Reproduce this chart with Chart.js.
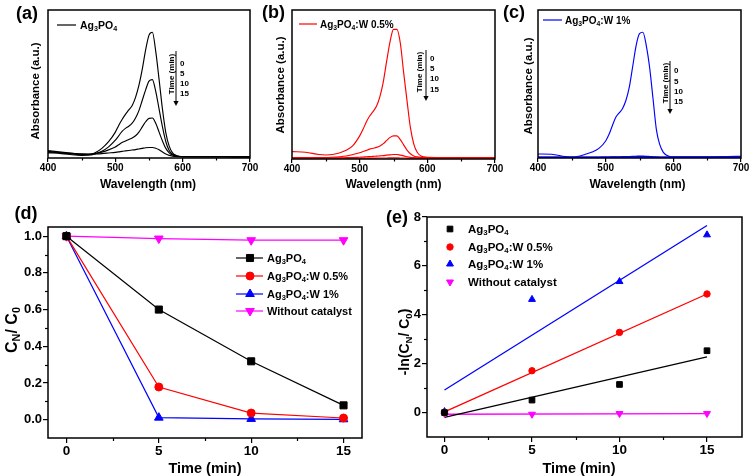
<!DOCTYPE html>
<html><head><meta charset="utf-8">
<script src="https://cdn.jsdelivr.net/npm/chart.js@4.4.1/dist/chart.umd.min.js"></script>
<style>
html,body{margin:0;padding:0;background:#fff;}
#wrap{position:relative;width:750px;height:476px;overflow:hidden;background:#fff;}
canvas{position:absolute;}
</style></head><body>
<div id="wrap">
<canvas id="ca" width="270" height="200" style="left:0px;top:0px"></canvas>
<canvas id="cb" width="270" height="200" style="left:250px;top:0px"></canvas>
<canvas id="cc" width="260" height="200" style="left:500px;top:0px"></canvas>
<canvas id="cd" width="380" height="276" style="left:0px;top:200px"></canvas>
<canvas id="ce" width="375" height="276" style="left:375px;top:200px"></canvas>
</div>
<script>
// ---------------- DATA ----------------
const wavelengths = [400,420,440,450,460,470,480,490,500,505,510,515,520,525,530,535,540,545,550,555,560,565,570,575,580,585,590,595,600,620,650,680,700];
const wlTicks = [400,500,600,700];
const wlMinorTicks = [450,550,650];
const timeLabels = ['0','5','10','15'];

// (a) Ag3PO4 spectra at 0,5,10,15 min
const absAg0  = [0.035,0.030,0.020,0.018,0.020,0.035,0.065,0.110,0.175,0.220,0.260,0.295,0.325,0.355,0.410,0.490,0.600,0.730,0.830,0.850,0.720,0.530,0.330,0.170,0.080,0.035,0.018,0.012,0.010,0.009,0.009,0.008,0.008];
const absAg5  = [0.045,0.035,0.025,0.020,0.020,0.028,0.045,0.075,0.120,0.150,0.180,0.200,0.215,0.235,0.270,0.320,0.390,0.460,0.520,0.530,0.450,0.330,0.210,0.110,0.050,0.025,0.014,0.010,0.009,0.009,0.009,0.008,0.008];
const absAg10 = [0.050,0.040,0.030,0.025,0.025,0.030,0.040,0.055,0.075,0.090,0.105,0.115,0.125,0.135,0.150,0.175,0.210,0.245,0.268,0.270,0.235,0.175,0.115,0.065,0.035,0.020,0.012,0.010,0.009,0.009,0.009,0.008,0.008];
const absAg15 = [0.040,0.035,0.030,0.028,0.027,0.028,0.030,0.034,0.038,0.041,0.045,0.048,0.051,0.054,0.057,0.061,0.065,0.069,0.071,0.071,0.066,0.055,0.040,0.027,0.018,0.013,0.010,0.009,0.009,0.009,0.009,0.008,0.008];
// (b) Ag3PO4:W 0.5%
const absW05_0  = [0.050,0.045,0.030,0.027,0.030,0.040,0.058,0.090,0.155,0.200,0.250,0.290,0.320,0.355,0.420,0.520,0.660,0.790,0.870,0.870,0.780,0.580,0.390,0.210,0.100,0.045,0.022,0.014,0.011,0.010,0.010,0.010,0.010];
const absW05_5  = [0.010,0.010,0.010,0.010,0.012,0.015,0.020,0.030,0.042,0.050,0.058,0.066,0.072,0.078,0.088,0.103,0.125,0.145,0.155,0.155,0.130,0.095,0.060,0.035,0.020,0.014,0.011,0.010,0.010,0.010,0.010,0.010,0.010];
const absW05_10 = [0.007,0.007,0.007,0.007,0.008,0.008,0.009,0.010,0.012,0.013,0.015,0.016,0.018,0.019,0.021,0.023,0.026,0.028,0.030,0.030,0.026,0.021,0.015,0.011,0.009,0.008,0.007,0.007,0.007,0.007,0.007,0.007,0.007];
const absW05_15 = [0.005,0.005,0.005,0.005,0.005,0.005,0.005,0.005,0.005,0.005,0.006,0.006,0.006,0.006,0.007,0.007,0.007,0.008,0.008,0.008,0.007,0.007,0.006,0.006,0.005,0.005,0.005,0.005,0.005,0.005,0.005,0.005,0.005];
// (c) Ag3PO4:W 1%
const absW1_0  = [0.027,0.025,0.010,0.006,0.012,0.025,0.040,0.065,0.115,0.160,0.220,0.275,0.305,0.335,0.390,0.480,0.620,0.760,0.840,0.850,0.760,0.610,0.400,0.190,0.090,0.040,0.018,0.010,0.008,0.008,0.008,0.010,0.012];
const absW1_5  = [0.006,0.006,0.006,0.006,0.006,0.006,0.006,0.006,0.007,0.007,0.008,0.008,0.008,0.009,0.009,0.010,0.011,0.012,0.013,0.013,0.012,0.010,0.008,0.007,0.006,0.006,0.006,0.006,0.006,0.006,0.006,0.007,0.008];
const absW1_10 = [0.005,0.005,0.005,0.005,0.005,0.005,0.005,0.005,0.006,0.006,0.006,0.007,0.007,0.007,0.008,0.008,0.009,0.009,0.010,0.010,0.009,0.008,0.007,0.006,0.005,0.005,0.005,0.005,0.005,0.005,0.005,0.006,0.007];
const absW1_15 = [0.004,0.004,0.004,0.004,0.004,0.004,0.004,0.004,0.004,0.004,0.005,0.005,0.005,0.005,0.005,0.005,0.006,0.006,0.006,0.006,0.006,0.005,0.005,0.004,0.004,0.004,0.004,0.004,0.004,0.004,0.004,0.005,0.006];

// (d) C/C0 vs time
const timePoints = [0,5,10,15];
const timeTicks = [0,5,10,15];
const timeMinorTicks = [2.5,7.5,12.5];
const ratioTicks = [0,0.2,0.4,0.6,0.8,1.0];
const ratioMinorTicks = [0.1,0.3,0.5,0.7,0.9];
const ratioAg   = [1.0,0.600,0.318,0.078];
const ratioW05  = [1.0,0.178,0.036,0.009];
const ratioW1   = [1.0,0.011,0.004,0.002];
const ratioNone = [1.0,0.987,0.978,0.978];

// (e) -ln(C/C0) vs time, with linear fits
const lnTicks = [0,2,4,6,8];
const lnMinorTicks = [1,3,5,7];
const lnAg   = [0,0.51,1.15,2.53];
const lnW05  = [0,1.71,3.28,4.85];
const lnW1   = [0.04,4.63,5.36,7.27];
const lnNone = [-0.04,-0.07,-0.04,-0.04];
const fitTimes = [0,15];
const fitAg   = [-0.20,2.28];
const fitW05  = [0.03,4.85];
const fitW1   = [0.92,7.65];
const fitNone = [-0.07,-0.04];

const seriesNames = ['Ag_3PO_4','Ag_3PO_4:W 0.5%','Ag_3PO_4:W 1%','Without catalyst'];

// ---------------- HELPERS ----------------
const FAM = '"Liberation Sans", Arial, Helvetica, sans-serif';
function fnt(size){ return {family:FAM, size:size, weight:'bold'}; }
function fstr(size){ return 'bold ' + size + 'px ' + FAM; }
function splitRich(str){
  const out=[]; let buf='';
  for(let i=0;i<str.length;i++){
    if(str[i]==='_' && i+1<str.length){ if(buf) out.push([buf,false]); buf=''; out.push([str[i+1],true]); i++; }
    else buf+=str[i];
  }
  if(buf) out.push([buf,false]);
  return out;
}
function richText(ctx, str, x, y, size, align, rot, color){
  const parts = splitRich(str);
  const ss = size*0.68;
  ctx.save();
  ctx.translate(x,y); if(rot) ctx.rotate(rot);
  ctx.fillStyle = color || '#000';
  ctx.textBaseline = 'alphabetic'; ctx.textAlign = 'left';
  let w=0;
  parts.forEach(p=>{ ctx.font = fstr(p[1]?ss:size); w += ctx.measureText(p[0]).width; });
  let cx = align==='center' ? -w/2 : (align==='right' ? -w : 0);
  const base = size*0.36;
  parts.forEach(p=>{
    ctx.font = fstr(p[1]?ss:size);
    ctx.fillText(p[0], cx, p[1] ? base + size*0.2 : base);
    cx += ctx.measureText(p[0]).width;
  });
  ctx.restore();
}
function marker(ctx, style, rot, r, x, y, color){
  ctx.save();
  ctx.fillStyle=color; ctx.strokeStyle=color; ctx.lineWidth=1;
  if (Chart.helpers && Chart.helpers.drawPoint){
    Chart.helpers.drawPoint(ctx, {pointStyle:style, rotation:rot||0, radius:r, borderWidth:1}, x, y);
  } else {
    ctx.beginPath();
    if(style==='circle'){ ctx.arc(x,y,r,0,Math.PI*2); }
    else if(style==='rect'){ const s=r*Math.SQRT1_2; ctx.rect(x-s,y-s,2*s,2*s); }
    else { let a=(rot||0)*Math.PI/180; for(let k=0;k<3;k++){ const px=x+Math.sin(a)*r, py=y-Math.cos(a)*r; k?ctx.lineTo(px,py):ctx.moveTo(px,py); a+=2*Math.PI/3; } ctx.closePath(); }
    ctx.fill(); ctx.stroke();
  }
  ctx.restore();
}
function seg(ctx,x1,y1,x2,y2,color,w){
  ctx.save(); ctx.strokeStyle=color||'#000'; ctx.lineWidth=w||1;
  ctx.beginPath(); ctx.moveTo(x1,y1); ctx.lineTo(x2,y2); ctx.stroke(); ctx.restore();
}
function timeArrow(ctx, tx, ty, ax, y1, y2, lx, ly){
  richText(ctx,'Time (min)',tx,ty,8,'center',-Math.PI/2,'#000');
  seg(ctx,ax,y1,ax,y2-4,'#000',1);
  ctx.save(); ctx.fillStyle='#000'; ctx.beginPath();
  ctx.moveTo(ax-2.6,y2-5); ctx.lineTo(ax+2.6,y2-5); ctx.lineTo(ax,y2); ctx.closePath(); ctx.fill(); ctx.restore();
  timeLabels.forEach((t,i)=>richText(ctx,t,lx,ly[i],8,'left',0,'#000'));
}
function extrasPlugin(cfg){
  return {
    id:'extras',
    afterDraw(chart){
      const ctx=chart.ctx, a=chart.chartArea;
      ctx.save();
      ctx.strokeStyle='#000'; ctx.lineWidth=1.5;
      ctx.strokeRect(a.left, a.top, a.right-a.left, a.bottom-a.top);
      (cfg.minorX||[]).forEach(v=>{ const px=Math.round(chart.scales.x.getPixelForValue(v))+0.5; seg(ctx,px,a.bottom,px,a.bottom+cfg.minorLen,'#000',1.2); });
      (cfg.minorY||[]).forEach(v=>{ const py=Math.round(chart.scales.y.getPixelForValue(v))+0.5; seg(ctx,a.left,py,a.left-cfg.minorLen,py,'#000',1.2); });
      cfg.draw(ctx, chart);
      ctx.restore();
    }
  };
}
function xyData(xs, ys){ return xs.map((x,i)=>({x:x, y:ys[i]})); }

function spectraChart(id, series, color, cfg){
  return new Chart(document.getElementById(id), {
    type:'line',
    data:{datasets: series.map(s=>({data:xyData(wavelengths,s), borderColor:color, borderWidth:1.15, pointRadius:0, fill:false, tension:0.4, cubicInterpolationMode:'monotone'}))},
    options:{
      responsive:false, animation:false, events:[],
      layout:{padding:cfg.pad},
      plugins:{legend:{display:false}, tooltip:{enabled:false}},
      scales:{
        x:{type:'linear', min:400, max:700,
           afterBuildTicks:s=>{ s.ticks = wlTicks.map(v=>({value:v})); },
           ticks:{font:fnt(10), color:'#000', padding:0, maxRotation:0, autoSkip:false},
           grid:{drawOnChartArea:false, drawTicks:true, tickLength:4, color:'#000', lineWidth:1.2},
           border:{display:false},
           afterFit:s=>{ s.height = cfg.xh; }},
        y:{type:'linear', min:0, max:1, ticks:{display:false}, grid:{display:false}, border:{display:false},
           afterFit:s=>{ s.width = cfg.yw; }}
      }
    },
    plugins:[extrasPlugin({minorX:wlMinorTicks, minorLen:2.5, draw:cfg.draw})]
  });
}

// ---------------- (a) ----------------
spectraChart('ca', [absAg0,absAg5,absAg10,absAg15], '#000000', {
  pad:{left:0,top:10,right:20,bottom:0}, xh:42, yw:48,
  draw(ctx){
    richText(ctx,'(a)',27,13,18,'center',0);
    richText(ctx,'Absorbance (a.u.)',35,91,11.5,'center',-Math.PI/2);
    richText(ctx,'Wavelength (nm)',148,184,12,'center',0);
    seg(ctx,57,25,76,25,'#000',1.2);
    richText(ctx,seriesNames[0],80,25,10.5,'left',0);
    timeArrow(ctx,171,74,176,51,106,180,[63,73,83,93]);
  }
});
// ---------------- (b) ----------------
spectraChart('cb', [absW05_0,absW05_5,absW05_10,absW05_15], '#ff0000', {
  pad:{left:0,top:10,right:25,bottom:0}, xh:41, yw:42,
  draw(ctx){
    richText(ctx,'(b)',23.5,12,18,'center',0);
    richText(ctx,'Absorbance (a.u.)',30,85,11.5,'center',-Math.PI/2);
    richText(ctx,'Wavelength (nm)',143.5,184,12,'center',0);
    seg(ctx,49,24,67,24,'#ff0000',1.2);
    richText(ctx,seriesNames[1],70,24,10,'left',0);
    timeArrow(ctx,169.5,72,176,50,101,180,[58,68,78.5,89]);
  }
});
// ---------------- (c) ----------------
spectraChart('cc', [absW1_0,absW1_5,absW1_10,absW1_15], '#0000ff', {
  pad:{left:0,top:10,right:19,bottom:0}, xh:42, yw:38,
  draw(ctx){
    richText(ctx,'(c)',14,12,18,'center',0);
    richText(ctx,'Absorbance (a.u.)',28,86,11.5,'center',-Math.PI/2);
    richText(ctx,'Wavelength (nm)',137.5,184,12,'center',0);
    seg(ctx,43,20,62,20,'#0000ff',1.2);
    richText(ctx,seriesNames[2],65,20,10,'left',0);
    timeArrow(ctx,165,83,170,61,114,174,[70,81,91,101]);
  }
});

// ---------------- (d) ----------------
const dStyles = [
  {c:'#000000', ps:'rect', rot:0, r:5},
  {c:'#ff0000', ps:'circle', rot:0, r:4},
  {c:'#0000ff', ps:'triangle', rot:0, r:5},
  {c:'#ff00ff', ps:'triangle', rot:180, r:5}
];
const dSeries = [ratioAg, ratioW05, ratioW1, ratioNone];
new Chart(document.getElementById('cd'), {
  type:'line',
  data:{datasets: dSeries.map((s,i)=>({data:xyData(timePoints,s), borderColor:dStyles[i].c, backgroundColor:dStyles[i].c,
    pointStyle:dStyles[i].ps, pointRotation:dStyles[i].rot, pointRadius:dStyles[i].r, pointBorderWidth:1, borderWidth:1.2, tension:0, fill:false}))},
  options:{
    responsive:false, animation:false, events:[],
    layout:{padding:{left:0,top:27,right:18,bottom:0}},
    plugins:{legend:{display:false}, tooltip:{enabled:false}},
    scales:{
      x:{type:'linear', min:-1, max:16,
         afterBuildTicks:s=>{ s.ticks = timeTicks.map(v=>({value:v})); },
         ticks:{font:fnt(13.5), color:'#000', padding:0, maxRotation:0, autoSkip:false},
         grid:{drawOnChartArea:false, tickLength:5, color:'#000', lineWidth:1.2},
         border:{display:false}, afterFit:s=>{ s.height=38; }},
      y:{type:'linear', min:-0.1, max:1.05,
         afterBuildTicks:s=>{ s.ticks = ratioTicks.map(v=>({value:v})); },
         ticks:{font:fnt(13), color:'#000', padding:1, callback:v=>Number(v).toFixed(1), autoSkip:false},
         grid:{drawOnChartArea:false, tickLength:5, color:'#000', lineWidth:1.2},
         border:{display:false}, afterFit:s=>{ s.width=48; }}
    }
  },
  plugins:[extrasPlugin({minorX:timeMinorTicks, minorY:ratioMinorTicks, minorLen:3, draw(ctx){
    richText(ctx,'(d)',26,13,18,'center',0);
    richText(ctx,'C_N/ C_0',11,130,16,'center',-Math.PI/2);
    richText(ctx,'Time (min)',205,268,14.5,'center',0);
    const ly=[58,76,94,111];
    dStyles.forEach((st,i)=>{
      seg(ctx,236,ly[i],263,ly[i],st.c,1.2);
      marker(ctx,st.ps,st.rot,st.r,250,ly[i],st.c);
      richText(ctx,seriesNames[i],267,ly[i],11,'left',0);
    });
  }})]
});

// ---------------- (e) ----------------
const eStyles = [
  {c:'#000000', ps:'rect', rot:0, r:4},
  {c:'#ff0000', ps:'circle', rot:0, r:3.2},
  {c:'#0000ff', ps:'triangle', rot:0, r:4},
  {c:'#ff00ff', ps:'triangle', rot:180, r:4}
];
const ePoints = [lnAg, lnW05, lnW1, lnNone];
const eFits = [fitAg, fitW05, fitW1, fitNone];
const eSets = [];
ePoints.forEach((s,i)=>eSets.push({data:xyData(timePoints,s), showLine:false, borderColor:eStyles[i].c, backgroundColor:eStyles[i].c,
  pointStyle:eStyles[i].ps, pointRotation:eStyles[i].rot, pointRadius:eStyles[i].r, pointBorderWidth:1}));
eFits.forEach((s,i)=>eSets.push({data:xyData(fitTimes,s), borderColor:eStyles[i].c, borderWidth:1.3, pointRadius:0, fill:false, tension:0}));
new Chart(document.getElementById('ce'), {
  type:'line',
  data:{datasets:eSets},
  options:{
    responsive:false, animation:false, events:[],
    layout:{padding:{left:0,top:17,right:8,bottom:0}},
    plugins:{legend:{display:false}, tooltip:{enabled:false}},
    scales:{
      x:{type:'linear', min:-1, max:17,
         afterBuildTicks:s=>{ s.ticks = timeTicks.map(v=>({value:v})); },
         ticks:{font:fnt(13.5), color:'#000', padding:0, maxRotation:0, autoSkip:false},
         grid:{drawOnChartArea:false, tickLength:5, color:'#000', lineWidth:1.2},
         border:{display:false}, afterFit:s=>{ s.height=39; }},
      y:{type:'linear', min:-1, max:8,
         afterBuildTicks:s=>{ s.ticks = lnTicks.map(v=>({value:v})); },
         ticks:{font:fnt(13), color:'#000', padding:1, autoSkip:false},
         grid:{drawOnChartArea:false, tickLength:5, color:'#000', lineWidth:1.2},
         border:{display:false}, afterFit:s=>{ s.width=52; }}
    }
  },
  plugins:[extrasPlugin({minorX:timeMinorTicks, minorY:lnMinorTicks, minorLen:3, draw(ctx){
    richText(ctx,'(e)',22,17,18,'center',0);
    richText(ctx,'-ln(C_N/ C_0)',29,142,14,'center',-Math.PI/2);
    richText(ctx,'Time (min)',204,268,14.5,'center',0);
    const ly=[29,47,64,82];
    eStyles.forEach((st,i)=>{
      marker(ctx,st.ps,st.rot,st.r,75,ly[i],st.c);
      richText(ctx,seriesNames[i],93,ly[i],11.5,'left',0);
    });
  }})]
});
</script>
</body></html>
